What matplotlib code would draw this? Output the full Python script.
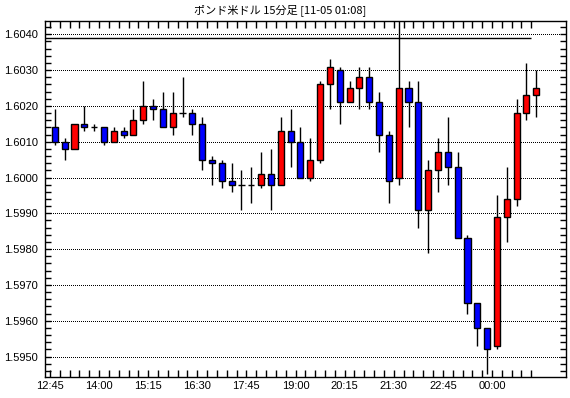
import matplotlib
matplotlib.use("Agg")
import matplotlib.pyplot as plt
import numpy as np
from matplotlib.ticker import MultipleLocator, FixedLocator

# ---- data (15-minute candles, 12:45 -> 01:00) ----
opens = [1.6014, 1.6010, 1.6008, 1.6015, 1.6014, 1.6014, 1.6010, 1.6013, 1.6012, 1.6016,
         1.6020, 1.6019, 1.6014, 1.6018, 1.6018, 1.6015, 1.6005, 1.6004, 1.5999, 1.5998,
         1.5998, 1.5998, 1.6001, 1.5998, 1.6013, 1.6010, 1.6000, 1.6005, 1.6026, 1.6030,
         1.6021, 1.6025, 1.6028, 1.6021, 1.6012, 1.6000, 1.6025, 1.6021, 1.5991, 1.6002,
         1.6007, 1.6003, 1.5983, 1.5965, 1.5958, 1.5953, 1.5989, 1.5994, 1.6018, 1.6023]
highs = [1.6019, 1.6011, 1.6015, 1.6020, 1.6015, 1.6014, 1.6014, 1.6014, 1.6019, 1.6027,
         1.6022, 1.6024, 1.6024, 1.6028, 1.6019, 1.6017, 1.6006, 1.6005, 1.6004, 1.6002,
         1.6003, 1.6007, 1.6008, 1.6017, 1.6019, 1.6014, 1.6011, 1.6027, 1.6033, 1.6031,
         1.6027, 1.6031, 1.6031, 1.6024, 1.6013, 1.6045, 1.6027, 1.6027, 1.6005, 1.6011,
         1.6017, 1.6007, 1.5984, 1.5965, 1.5958, 1.5995, 1.6003, 1.6022, 1.6032, 1.6030]
lows = [1.6009, 1.6005, 1.6008, 1.6013, 1.6013, 1.6009, 1.6010, 1.6011, 1.6012, 1.6015,
        1.6016, 1.6014, 1.6012, 1.6017, 1.6012, 1.6002, 1.5998, 1.5997, 1.5996, 1.5991,
        1.5993, 1.5997, 1.5991, 1.5998, 1.6003, 1.6000, 1.5999, 1.6004, 1.6019, 1.6015,
        1.6021, 1.6019, 1.6019, 1.6007, 1.5993, 1.5998, 1.6014, 1.5986, 1.5979, 1.5996,
        1.5998, 1.5983, 1.5962, 1.5953, 1.5945, 1.5952, 1.5982, 1.5992, 1.6016, 1.6017]
closes = [1.6010, 1.6008, 1.6015, 1.6014, 1.6014, 1.6010, 1.6013, 1.6012, 1.6016, 1.6020,
          1.6019, 1.6014, 1.6018, 1.6018, 1.6015, 1.6005, 1.6004, 1.5999, 1.5998, 1.5998,
          1.5998, 1.6001, 1.5998, 1.6013, 1.6010, 1.6000, 1.6005, 1.6026, 1.6031, 1.6021,
          1.6025, 1.6028, 1.6021, 1.6012, 1.5999, 1.6025, 1.6021, 1.5991, 1.6002, 1.6007,
          1.6003, 1.5983, 1.5965, 1.5958, 1.5952, 1.5989, 1.5994, 1.6018, 1.6023, 1.6025]
ref_level = 1.6039
time_labels = ["12:45", "14:00", "15:15", "16:30", "17:45", "19:00", "20:15", "21:30", "22:45", "00:00"]
y_labels = ["1.5950", "1.5960", "1.5970", "1.5980", "1.5990", "1.6000", "1.6010", "1.6020", "1.6030", "1.6040"]
title = "ポンド米ドル 15分足 [11-05 01:08]"

W, H = 570, 398
fig = plt.figure(figsize=(W / 100, H / 100), dpi=100)
fig.patch.set_facecolor("white")
L, R, T, B = 45, 565.7, 20.7, 377.3
ax = fig.add_axes([L / W, 1 - B / H, (R - L) / W, (B - T) / H])

n = len(opens)
xs = np.arange(n)
o = np.array(opens); c = np.array(closes); hi = np.array(highs); lo = np.array(lows)

ax.vlines(xs, lo, hi, color="black", linewidth=1.0, zorder=2)
bw = 0.62
for i in range(n):
    if c[i] > o[i]:
        ax.bar(xs[i], c[i] - o[i], bottom=o[i], width=bw, color="#ff0000",
               edgecolor="black", linewidth=1.0, zorder=3)
    elif c[i] < o[i]:
        ax.bar(xs[i], o[i] - c[i], bottom=c[i], width=bw, color="#0000ff",
               edgecolor="black", linewidth=1.0, zorder=3)
    else:
        ax.hlines(o[i], xs[i] - bw / 2, xs[i] + bw / 2, color="black", linewidth=1.0, zorder=3)

ax.hlines(ref_level, -1, n - 1.5, color="black", linewidth=1.0, zorder=2)

yvals = [float(v) for v in y_labels]
for v in yvals:
    ax.axhline(v, color="black", linewidth=0.72, linestyle=(0, (1, 2)), zorder=1,
               antialiased=False)

ax.set_xlim(-1, 52)
ax.set_ylim(1.59442, 1.60438)

ax.yaxis.set_major_locator(FixedLocator(yvals))
ax.set_yticklabels(y_labels)
ax.yaxis.set_minor_locator(MultipleLocator(0.0002))
major_x = [5 * k - 0.5 for k in range(len(time_labels))]
ax.xaxis.set_major_locator(FixedLocator(major_x))
ax.set_xticklabels(time_labels)
ax.xaxis.set_minor_locator(FixedLocator([k - 0.5 for k in range(n)]))

ax.tick_params(axis="both", which="both", direction="in", top=True, right=True,
               width=1.0, color="black", labelsize=8)
ax.tick_params(axis="x", which="both", length=5, pad=3)
ax.tick_params(axis="y", which="both", length=4, pad=5)
for lab in ax.get_xticklabels() + ax.get_yticklabels():
    lab.set_fontfamily("Liberation Sans")

for s in ax.spines.values():
    s.set_linewidth(1.0)
    s.set_color("black")

fig.text(280 / W, 1 - 10 / H, title, ha="center", va="center", fontsize=8,
         family=["Noto Sans CJK JP", "DejaVu Sans"])

fig.savefig("out.png", dpi=100, facecolor="white")
